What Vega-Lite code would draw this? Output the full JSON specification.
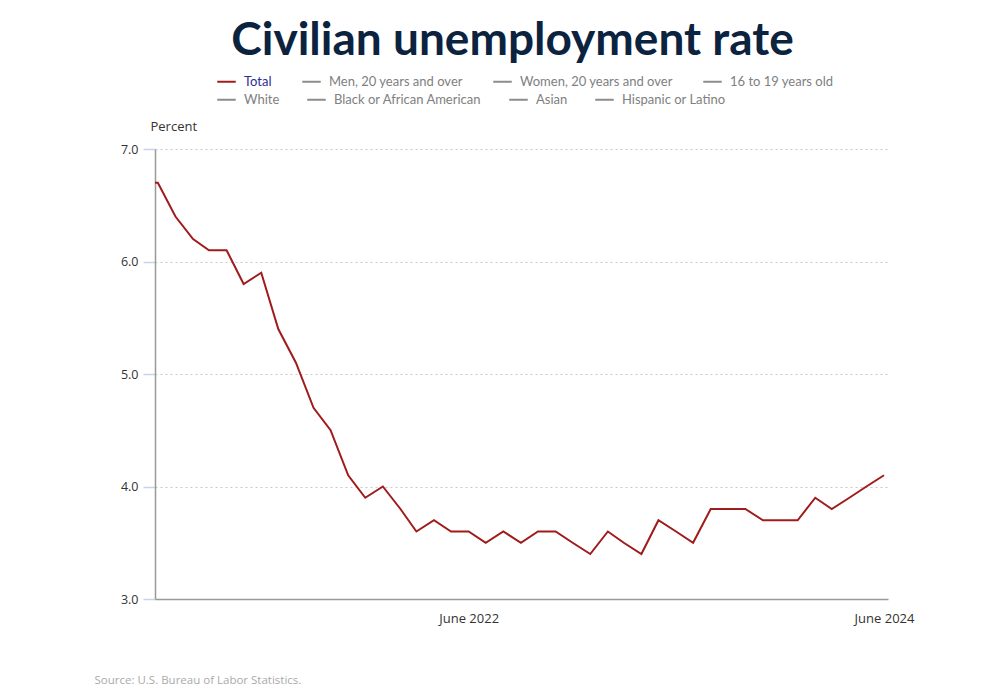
{
  "$schema": "https://vega.github.io/schema/vega-lite/v6.json",
  "width": 733,
  "height": 450,
  "autosize": {"type": "none"},
  "padding": {"left": 155, "top": 149, "right": 112, "bottom": 101},
  "background": "white",
  "title": {
    "text": "Civilian unemployment rate",
    "font": "Lato",
    "fontSize": 46,
    "fontWeight": "bold",
    "color": "#0c2340",
    "anchor": "middle",
    "dx": -9,
    "offset": 6
  },
  "config": {
    "view": {"stroke": null},
    "font": "Open Sans"
  },
  "datasets": {
    "total": [
      {"month": "2020-11-01", "rate": 6.7, "series": "Total"},
      {"month": "2020-12-01", "rate": 6.7, "series": "Total"},
      {"month": "2021-01-01", "rate": 6.4, "series": "Total"},
      {"month": "2021-02-01", "rate": 6.2, "series": "Total"},
      {"month": "2021-03-01", "rate": 6.1, "series": "Total"},
      {"month": "2021-04-01", "rate": 6.1, "series": "Total"},
      {"month": "2021-05-01", "rate": 5.8, "series": "Total"},
      {"month": "2021-06-01", "rate": 5.9, "series": "Total"},
      {"month": "2021-07-01", "rate": 5.4, "series": "Total"},
      {"month": "2021-08-01", "rate": 5.1, "series": "Total"},
      {"month": "2021-09-01", "rate": 4.7, "series": "Total"},
      {"month": "2021-10-01", "rate": 4.5, "series": "Total"},
      {"month": "2021-11-01", "rate": 4.1, "series": "Total"},
      {"month": "2021-12-01", "rate": 3.9, "series": "Total"},
      {"month": "2022-01-01", "rate": 4.0, "series": "Total"},
      {"month": "2022-02-01", "rate": 3.8, "series": "Total"},
      {"month": "2022-03-01", "rate": 3.6, "series": "Total"},
      {"month": "2022-04-01", "rate": 3.7, "series": "Total"},
      {"month": "2022-05-01", "rate": 3.6, "series": "Total"},
      {"month": "2022-06-01", "rate": 3.6, "series": "Total"},
      {"month": "2022-07-01", "rate": 3.5, "series": "Total"},
      {"month": "2022-08-01", "rate": 3.6, "series": "Total"},
      {"month": "2022-09-01", "rate": 3.5, "series": "Total"},
      {"month": "2022-10-01", "rate": 3.6, "series": "Total"},
      {"month": "2022-11-01", "rate": 3.6, "series": "Total"},
      {"month": "2022-12-01", "rate": 3.5, "series": "Total"},
      {"month": "2023-01-01", "rate": 3.4, "series": "Total"},
      {"month": "2023-02-01", "rate": 3.6, "series": "Total"},
      {"month": "2023-03-01", "rate": 3.5, "series": "Total"},
      {"month": "2023-04-01", "rate": 3.4, "series": "Total"},
      {"month": "2023-05-01", "rate": 3.7, "series": "Total"},
      {"month": "2023-06-01", "rate": 3.6, "series": "Total"},
      {"month": "2023-07-01", "rate": 3.5, "series": "Total"},
      {"month": "2023-08-01", "rate": 3.8, "series": "Total"},
      {"month": "2023-09-01", "rate": 3.8, "series": "Total"},
      {"month": "2023-10-01", "rate": 3.8, "series": "Total"},
      {"month": "2023-11-01", "rate": 3.7, "series": "Total"},
      {"month": "2023-12-01", "rate": 3.7, "series": "Total"},
      {"month": "2024-01-01", "rate": 3.7, "series": "Total"},
      {"month": "2024-02-01", "rate": 3.9, "series": "Total"},
      {"month": "2024-03-01", "rate": 3.8, "series": "Total"},
      {"month": "2024-04-01", "rate": 3.9, "series": "Total"},
      {"month": "2024-05-01", "rate": 4.0, "series": "Total"},
      {"month": "2024-06-01", "rate": 4.1, "series": "Total"}
    ],
    "others": []
  },
  "layer": [
    {
      "data": {"name": "total"},
      "mark": {"type": "line", "strokeWidth": 2, "clip": true},
      "encoding": {
        "x": {
          "field": "month",
          "type": "temporal",
          "scale": {"domain": [{"year": 2020, "month": 11, "date": 26}, {"year": 2024, "month": 6, "date": 8}], "nice": false},
          "axis": {
            "values": [{"year": 2022, "month": 6, "date": 1}, {"year": 2024, "month": 6, "date": 1}],
            "format": "%B %Y",
            "grid": false,
            "ticks": false,
            "domainColor": "#999999",
            "domainWidth": 1.5,
            "labelFont": "Open Sans",
            "labelFontSize": 13,
            "labelColor": "#333333",
            "labelPadding": 13,
            "title": "Source: U.S. Bureau of Labor Statistics.",
            "titleFont": "Open Sans",
            "titleFontSize": 11.5,
            "titleFontWeight": "normal",
            "titleColor": "#aaaaaa",
            "titleAlign": "left",
            "titleBaseline": "middle",
            "titleX": -61,
            "titleY": 81
          }
        },
        "y": {
          "field": "rate",
          "type": "quantitative",
          "scale": {"domain": [3, 7], "nice": false, "zero": false},
          "axis": {
            "values": [3, 4, 5, 6, 7],
            "format": ".1f",
            "grid": true,
            "gridColor": "#c8c8c8",
            "gridDash": [2, 3],
            "gridWidth": 1,
            "domainColor": "#999999",
            "domainWidth": 1.5,
            "tickColor": "#c6d3ea",
            "tickSize": 12,
            "tickWidth": 1.5,
            "labelFont": "Open Sans",
            "labelFontSize": 12.5,
            "labelColor": "#333333",
            "labelPadding": 5,
            "title": "Percent",
            "titleFont": "Open Sans",
            "titleFontSize": 13,
            "titleFontWeight": "normal",
            "titleColor": "#333333",
            "titleAngle": 0,
            "titleAlign": "left",
            "titleBaseline": "middle",
            "titleX": -5,
            "titleY": -23
          }
        },
        "color": {
          "field": "series",
          "type": "nominal",
          "scale": {
            "domain": ["Total", "Men, 20 years and over", "Women, 20 years and over", "16 to 19 years old"],
            "range": ["#a01b1b", "#8c8c8c", "#8c8c8c", "#8c8c8c"]
          },
          "legend": {
            "orient": "none",
            "legendX": 61,
            "legendY": -78,
            "direction": "horizontal",
            "title": null,
            "symbolType": "stroke",
            "symbolSize": 342,
            "symbolStrokeWidth": 2,
            "labelFont": "Lato",
            "labelFontSize": 13,
            "labelOffset": 7,
            "columnPadding": 26,
            "labelLimit": 300,
            "encode": {
              "labels": {"update": {"fill": {"signal": "datum.label === 'Total' ? '#2e2e8f' : '#808080'"}}}
            }
          }
        }
      }
    },
    {
      "data": {"name": "others"},
      "mark": {"type": "line", "strokeWidth": 2},
      "encoding": {
        "x": {"field": "month", "type": "temporal"},
        "y": {"field": "rate", "type": "quantitative"},
        "strokeDash": {
          "field": "series",
          "type": "nominal",
          "scale": {
            "domain": ["White", "Black or African American", "Asian", "Hispanic or Latino"],
            "range": [[1, 0], [1, 0], [1, 0], [1, 0]]
          },
          "legend": {
            "orient": "none",
            "legendX": 61,
            "legendY": -60,
            "direction": "horizontal",
            "title": null,
            "symbolType": "stroke",
            "symbolSize": 342,
            "symbolStrokeWidth": 2,
            "symbolStrokeColor": "#8c8c8c",
            "labelFont": "Lato",
            "labelFontSize": 13,
            "labelColor": "#808080",
            "labelOffset": 7,
            "columnPadding": 23,
            "labelLimit": 300
          }
        }
      }
    }
  ]
}
